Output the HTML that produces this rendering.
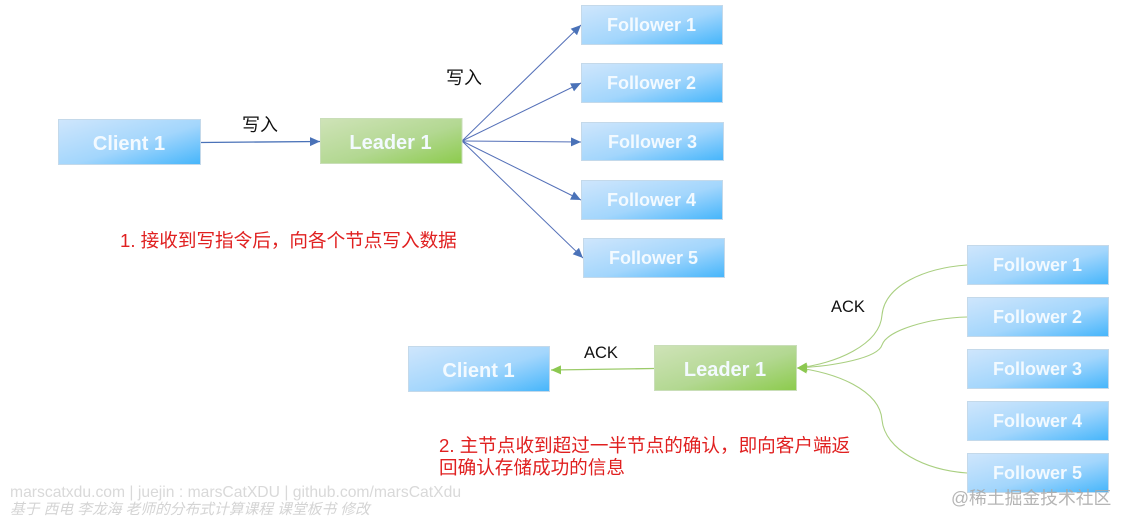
<!DOCTYPE html>
<html>
<head>
<meta charset="utf-8">
<style>
html,body{margin:0;padding:0;background:#fff;}
body{width:1129px;height:525px;overflow:hidden;position:relative;}
svg{position:absolute;left:0;top:0;filter:blur(.35px);}
text{font-family:"Liberation Sans","Noto Sans CJK SC",sans-serif;}
.n{fill:#f3faff;font-weight:bold;text-anchor:middle;}
.f{font-size:18px;}
.m{font-size:20px;}
.b{fill:url(#bl);stroke:#c4d9ea;stroke-width:1;}
.g{fill:url(#gr);stroke:#c9deb8;stroke-width:1;}
.lab{font-size:18px;fill:#111;}
.ack{font-size:16.500px;fill:#111;}
.red{font-size:18.600px;fill:#e02020;}
</style>
</head>
<body>
<svg width="1129" height="525" viewBox="0 0 1129 525" xmlns="http://www.w3.org/2000/svg">
<defs>
<linearGradient id="bl" x1="0" y1="0" x2="1" y2="1">
<stop offset="0" stop-color="#cfe6fc"/><stop offset=".55" stop-color="#a3d6fc"/><stop offset="1" stop-color="#45b5fb"/>
</linearGradient>
<linearGradient id="gr" x1="0" y1="0" x2="1" y2="1">
<stop offset="0" stop-color="#cfe3b8"/><stop offset=".55" stop-color="#b3d892"/><stop offset="1" stop-color="#8ccb4c"/>
</linearGradient>
<marker id="ab" markerWidth="12" markerHeight="10" refX="10" refY="4.500" orient="auto" markerUnits="userSpaceOnUse"><path d="M0 0L10 4.500L0 9Z" fill="#4a72b8"/></marker>
<marker id="ag" markerWidth="12" markerHeight="10" refX="10" refY="4.500" orient="auto" markerUnits="userSpaceOnUse"><path d="M0 0L10 4.500L0 9Z" fill="#8cc850"/></marker>
</defs>

<!-- top connectors -->
<g stroke="#5470b8" stroke-width="1" fill="none">
<path d="M200.500 142.500L320 141.500" stroke="#4a72b8" stroke-width="1.300" marker-end="url(#ab)"/>
<path d="M462 141L581 25" marker-end="url(#ab)"/>
<path d="M462 141L581 83" marker-end="url(#ab)"/>
<path d="M462 141L581 142" marker-end="url(#ab)"/>
<path d="M462 141L581 200" marker-end="url(#ab)"/>
<path d="M462 141L583 258" marker-end="url(#ab)"/>
</g>

<!-- top nodes -->
<rect class="b" x="58.500" y="119.500" width="142" height="45"/>
<text class="n m" x="129" y="150">Client 1</text>
<rect class="g" x="320.500" y="118.500" width="141.500" height="45"/>
<text class="n m" x="390.500" y="149">Leader 1</text>

<rect class="b" x="581.500" y="5.500" width="141" height="39"/>
<text class="n f" x="651.500" y="31">Follower 1</text>
<rect class="b" x="581.500" y="63.500" width="141" height="39"/>
<text class="n f" x="651.500" y="89">Follower 2</text>
<rect class="b" x="581.500" y="122.500" width="142" height="38"/>
<text class="n f" x="652.500" y="148">Follower 3</text>
<rect class="b" x="581.500" y="180.500" width="141" height="39"/>
<text class="n f" x="651.500" y="206">Follower 4</text>
<rect class="b" x="583.500" y="238.500" width="141" height="39"/>
<text class="n f" x="653.500" y="264">Follower 5</text>

<text class="lab" x="242" y="131">写入</text>
<text class="lab" x="446" y="84">写入</text>
<text class="red" x="120" y="247">1. 接收到写指令后，向各个节点写入数据</text>

<!-- bottom connectors -->
<g stroke="#a9cf80" stroke-width="1.100" fill="none">
<path d="M967 265C925 268 885 285 882 315C880 345 835 364 797 368" marker-end="url(#ag)"/>
<path d="M967 317C930 318 887 330 882 345C878 358 835 366 797 368" marker-end="url(#ag)"/>
<path d="M967 473C925 470 885 450 882 420C880 390 835 372 797 368" marker-end="url(#ag)"/>
<path d="M654 368.500L551 370" stroke="#9ccb6a" stroke-width="1.300" marker-end="url(#ag)"/>
</g>

<!-- bottom nodes -->
<rect class="b" x="408.500" y="346.500" width="141" height="45"/>
<text class="n m" x="478.500" y="377">Client 1</text>
<rect class="g" x="654.500" y="345.500" width="142" height="45"/>
<text class="n m" x="725" y="376">Leader 1</text>

<rect class="b" x="967.500" y="245.500" width="141" height="39"/>
<text class="n f" x="1037.500" y="271">Follower 1</text>
<rect class="b" x="967.500" y="297.500" width="141" height="39"/>
<text class="n f" x="1037.500" y="323">Follower 2</text>
<rect class="b" x="967.500" y="349.500" width="141" height="39"/>
<text class="n f" x="1037.500" y="375">Follower 3</text>
<rect class="b" x="967.500" y="401.500" width="141" height="39"/>
<text class="n f" x="1037.500" y="427">Follower 4</text>
<rect class="b" x="967.500" y="453.500" width="141" height="39"/>
<text class="n f" x="1037.500" y="479">Follower 5</text>

<text class="ack" x="831" y="312">ACK</text>
<text class="ack" x="584" y="358">ACK</text>
<text class="red" x="439" y="452">2. 主节点收到超过一半节点的确认，即向客户端返</text>
<text class="red" x="439" y="474">回确认存储成功的信息</text>

<!-- watermarks -->
<text x="10" y="497" font-size="15.700" fill="#d9d9d9">marscatxdu.com | juejin : marsCatXDU | github.com/marsCatXdu</text>
<text x="10" y="514" font-size="14.750" fill="#d4d4d4" font-style="italic">基于 西电 李龙海 老师的分布式计算课程 课堂板书 修改</text>
<text x="951" y="504" font-size="17.800" fill="#a8a8a8" fill-opacity=".85">@稀土掘金技术社区</text>
</svg>
</body>
</html>
